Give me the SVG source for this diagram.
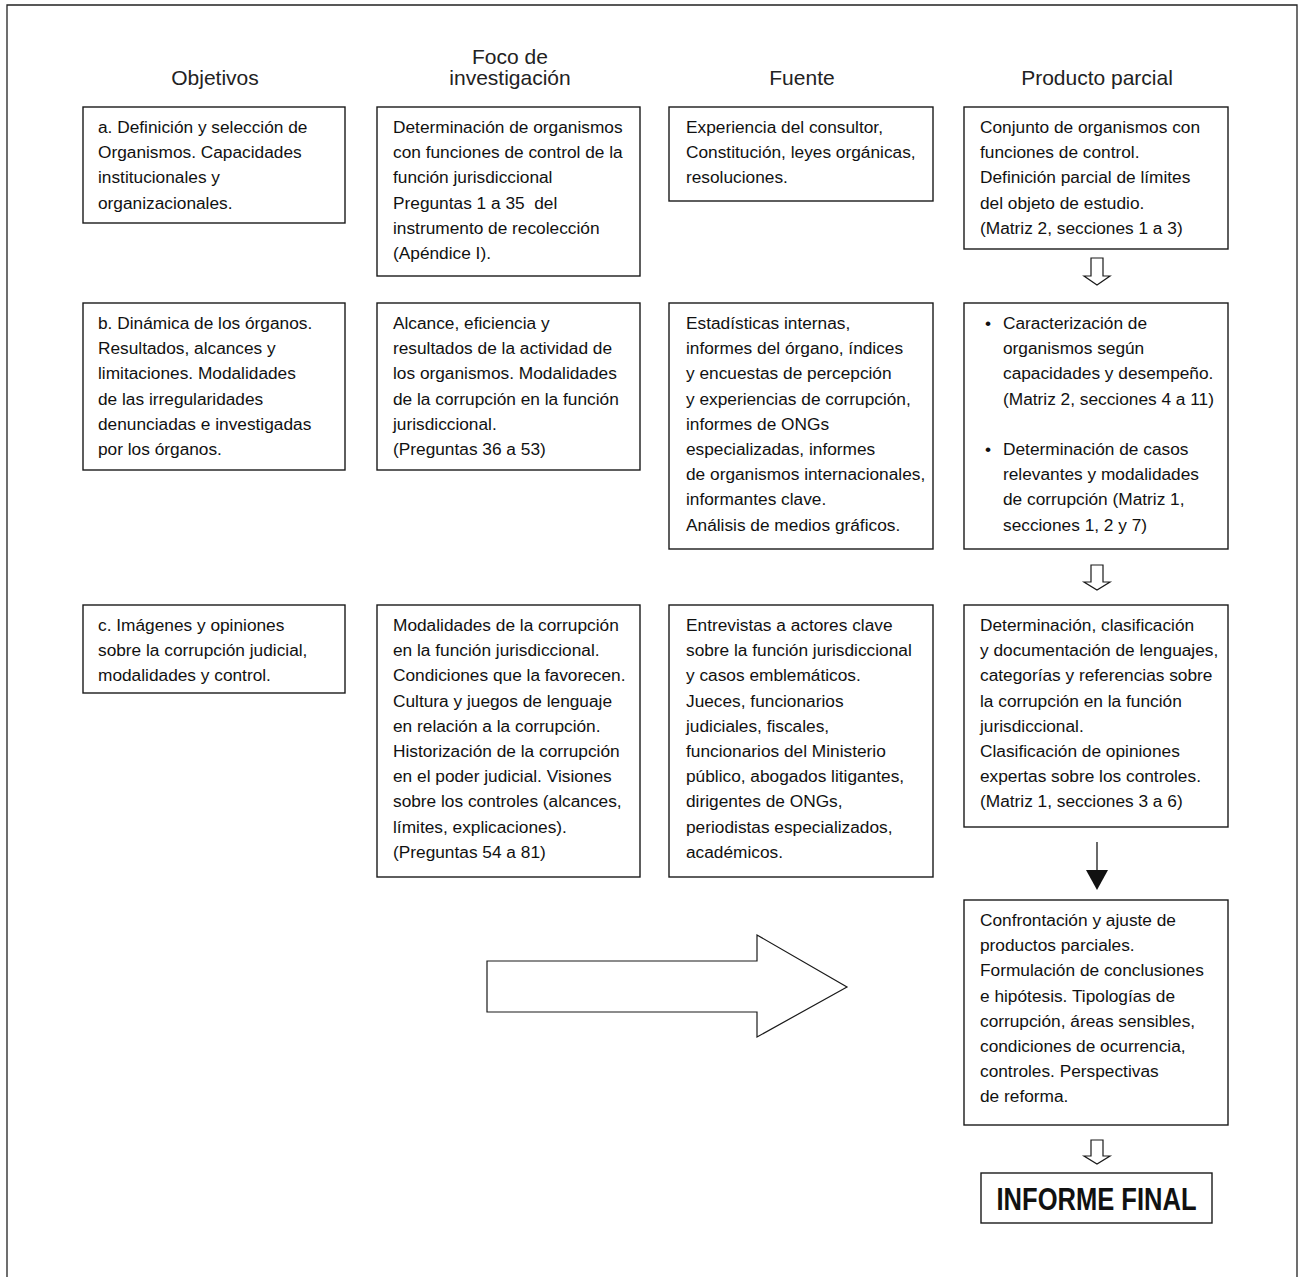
<svg xmlns="http://www.w3.org/2000/svg" width="1304" height="1277" viewBox="0 0 1304 1277">
<style>
  .bg { fill: #ffffff; }
  .frame { fill: none; stroke: #222; stroke-width: 1.3; }
  .box { fill: #ffffff; stroke: #1a1a1a; stroke-width: 1.4; }
  .t { font-family: "Liberation Sans", Arial, sans-serif; font-size: 17.3px; fill: #111; white-space: pre; }
  .h { font-family: "Liberation Sans", Arial, sans-serif; font-size: 21px; fill: #222; text-anchor: middle; }
  .big { font-family: "Liberation Sans", Arial, sans-serif; font-weight: bold; font-size: 32px; fill: #111; text-anchor: middle; }
  .hollow { fill: #ffffff; stroke: #1a1a1a; stroke-width: 1.2; stroke-linejoin: miter; }
  .line { stroke: #1a1a1a; stroke-width: 1.3; fill: none; }
  .solid { fill: #111; stroke: none; }
</style>
<rect class="bg" x="0" y="0" width="1304" height="1277"/>
<path class="frame" d="M7,1277 V5 H1297 V1277"/>

<g id="headers">
  <text class="h" x="215" y="85">Objetivos</text>
  <text class="h" x="510" y="64">Foco de</text>
  <text class="h" x="510" y="85">investigación</text>
  <text class="h" x="802" y="85">Fuente</text>
  <text class="h" x="1097" y="85">Producto parcial</text>
</g>

<g id="obj-a">
  <rect class="box" x="83" y="107" width="262" height="116"/>
  <text class="t" x="98" y="133"><tspan x="98" dy="0">a. Definición y selección de</tspan><tspan x="98" dy="25.2">Organismos. Capacidades</tspan><tspan x="98" dy="25.2">institucionales y</tspan><tspan x="98" dy="25.2">organizacionales.</tspan></text>
</g>
<g id="foco-1">
  <rect class="box" x="377" y="107" width="263" height="169"/>
  <text class="t" x="393" y="133"><tspan x="393" dy="0">Determinación de organismos</tspan><tspan x="393" dy="25.2">con funciones de control de la</tspan><tspan x="393" dy="25.2">función jurisdiccional</tspan><tspan x="393" dy="25.2">Preguntas 1 a 35  del</tspan><tspan x="393" dy="25.2">instrumento de recolección</tspan><tspan x="393" dy="25.2">(Apéndice I).</tspan></text>
</g>
<g id="fuente-1">
  <rect class="box" x="669" y="107" width="264" height="94"/>
  <text class="t" x="686" y="133"><tspan x="686" dy="0">Experiencia del consultor,</tspan><tspan x="686" dy="25.2">Constitución, leyes orgánicas,</tspan><tspan x="686" dy="25.2">resoluciones.</tspan></text>
</g>
<g id="prod-1">
  <rect class="box" x="964" y="107" width="264" height="142"/>
  <text class="t" x="980" y="133"><tspan x="980" dy="0">Conjunto de organismos con</tspan><tspan x="980" dy="25.2">funciones de control.</tspan><tspan x="980" dy="25.2">Definición parcial de límites</tspan><tspan x="980" dy="25.2">del objeto de estudio.</tspan><tspan x="980" dy="25.2">(Matriz 2, secciones 1 a 3)</tspan></text>
</g>

<g id="obj-b">
  <rect class="box" x="83" y="303" width="262" height="167"/>
  <text class="t" x="98" y="329"><tspan x="98" dy="0">b. Dinámica de los órganos.</tspan><tspan x="98" dy="25.2">Resultados, alcances y</tspan><tspan x="98" dy="25.2">limitaciones. Modalidades</tspan><tspan x="98" dy="25.2">de las irregularidades</tspan><tspan x="98" dy="25.2">denunciadas e investigadas</tspan><tspan x="98" dy="25.2">por los órganos.</tspan></text>
</g>
<g id="foco-2">
  <rect class="box" x="377" y="303" width="263" height="167"/>
  <text class="t" x="393" y="329"><tspan x="393" dy="0">Alcance, eficiencia y</tspan><tspan x="393" dy="25.2">resultados de la actividad de</tspan><tspan x="393" dy="25.2">los organismos. Modalidades</tspan><tspan x="393" dy="25.2">de la corrupción en la función</tspan><tspan x="393" dy="25.2">jurisdiccional.</tspan><tspan x="393" dy="25.2">(Preguntas 36 a 53)</tspan></text>
</g>
<g id="fuente-2">
  <rect class="box" x="669" y="303" width="264" height="246"/>
  <text class="t" x="686" y="329"><tspan x="686" dy="0">Estadísticas internas,</tspan><tspan x="686" dy="25.2">informes del órgano, índices</tspan><tspan x="686" dy="25.2">y encuestas de percepción</tspan><tspan x="686" dy="25.2">y experiencias de corrupción,</tspan><tspan x="686" dy="25.2">informes de ONGs</tspan><tspan x="686" dy="25.2">especializadas, informes</tspan><tspan x="686" dy="25.2">de organismos internacionales,</tspan><tspan x="686" dy="25.2">informantes clave.</tspan><tspan x="686" dy="25.2">Análisis de medios gráficos.</tspan></text>
</g>
<g id="prod-2">
  <rect class="box" x="964" y="303" width="264" height="246"/>
  <text class="t" x="985" y="329">•</text>
  <text class="t" x="1003" y="329"><tspan x="1003" dy="0">Caracterización de</tspan><tspan x="1003" dy="25.2">organismos según</tspan><tspan x="1003" dy="25.2">capacidades y desempeño.</tspan><tspan x="1003" dy="25.2">(Matriz 2, secciones 4 a 11)</tspan></text>
  <text class="t" x="985" y="455">•</text>
  <text class="t" x="1003" y="455"><tspan x="1003" dy="0">Determinación de casos</tspan><tspan x="1003" dy="25.2">relevantes y modalidades</tspan><tspan x="1003" dy="25.2">de corrupción (Matriz 1,</tspan><tspan x="1003" dy="25.2">secciones 1, 2 y 7)</tspan></text>
</g>

<g id="obj-c">
  <rect class="box" x="83" y="605" width="262" height="88"/>
  <text class="t" x="98" y="631"><tspan x="98" dy="0">c. Imágenes y opiniones</tspan><tspan x="98" dy="25.2">sobre la corrupción judicial,</tspan><tspan x="98" dy="25.2">modalidades y control.</tspan></text>
</g>
<g id="foco-3">
  <rect class="box" x="377" y="605" width="263" height="272"/>
  <text class="t" x="393" y="631"><tspan x="393" dy="0">Modalidades de la corrupción</tspan><tspan x="393" dy="25.2">en la función jurisdiccional.</tspan><tspan x="393" dy="25.2">Condiciones que la favorecen.</tspan><tspan x="393" dy="25.2">Cultura y juegos de lenguaje</tspan><tspan x="393" dy="25.2">en relación a la corrupción.</tspan><tspan x="393" dy="25.2">Historización de la corrupción</tspan><tspan x="393" dy="25.2">en el poder judicial. Visiones</tspan><tspan x="393" dy="25.2">sobre los controles (alcances,</tspan><tspan x="393" dy="25.2">límites, explicaciones).</tspan><tspan x="393" dy="25.2">(Preguntas 54 a 81)</tspan></text>
</g>
<g id="fuente-3">
  <rect class="box" x="669" y="605" width="264" height="272"/>
  <text class="t" x="686" y="631"><tspan x="686" dy="0">Entrevistas a actores clave</tspan><tspan x="686" dy="25.2">sobre la función jurisdiccional</tspan><tspan x="686" dy="25.2">y casos emblemáticos.</tspan><tspan x="686" dy="25.2">Jueces, funcionarios</tspan><tspan x="686" dy="25.2">judiciales, fiscales,</tspan><tspan x="686" dy="25.2">funcionarios del Ministerio</tspan><tspan x="686" dy="25.2">público, abogados litigantes,</tspan><tspan x="686" dy="25.2">dirigentes de ONGs,</tspan><tspan x="686" dy="25.2">periodistas especializados,</tspan><tspan x="686" dy="25.2">académicos.</tspan></text>
</g>
<g id="prod-3">
  <rect class="box" x="964" y="605" width="264" height="222"/>
  <text class="t" x="980" y="631"><tspan x="980" dy="0">Determinación, clasificación</tspan><tspan x="980" dy="25.2">y documentación de lenguajes,</tspan><tspan x="980" dy="25.2">categorías y referencias sobre</tspan><tspan x="980" dy="25.2">la corrupción en la función</tspan><tspan x="980" dy="25.2">jurisdiccional.</tspan><tspan x="980" dy="25.2">Clasificación de opiniones</tspan><tspan x="980" dy="25.2">expertas sobre los controles.</tspan><tspan x="980" dy="25.2">(Matriz 1, secciones 3 a 6)</tspan></text>
</g>

<g id="final">
  <rect class="box" x="964" y="900" width="264" height="225"/>
  <text class="t" x="980" y="926"><tspan x="980" dy="0">Confrontación y ajuste de</tspan><tspan x="980" dy="25.2">productos parciales.</tspan><tspan x="980" dy="25.2">Formulación de conclusiones</tspan><tspan x="980" dy="25.2">e hipótesis. Tipologías de</tspan><tspan x="980" dy="25.2">corrupción, áreas sensibles,</tspan><tspan x="980" dy="25.2">condiciones de ocurrencia,</tspan><tspan x="980" dy="25.2">controles. Perspectivas</tspan><tspan x="980" dy="25.2">de reforma.</tspan></text>
</g>

<g id="informe-final">
  <rect class="box" x="981" y="1173" width="231" height="50"/>
  <text class="big" x="1096.5" y="1210" textLength="200" lengthAdjust="spacingAndGlyphs">INFORME FINAL</text>
</g>

<g id="connectors">
  <path class="hollow" d="M1091,258 H1103 V276 H1110 L1097,285 L1084,276 H1091 Z"/>
  <path class="hollow" d="M1091,565 H1103 V582 H1110 L1097,590 L1084,582 H1091 Z"/>
  <line class="line" x1="1097" y1="842" x2="1097" y2="872"/>
  <path class="solid" d="M1086,870 H1108 L1097,890 Z"/>
  <path class="hollow" d="M1091,1140 H1103 V1156 H1110 L1097,1164 L1084,1156 H1091 Z"/>
  <path class="hollow" d="M487,961 H757 V935 L847,987 L757,1037 V1012 H487 Z"/>
</g>
</svg>
